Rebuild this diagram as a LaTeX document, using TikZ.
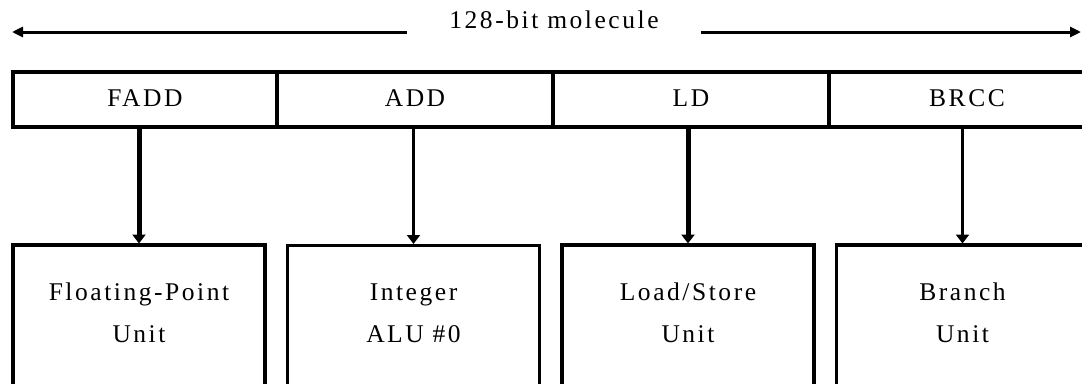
\documentclass[tikz,border=0pt]{standalone}
\usepackage{fontspec}
\setmainfont{Liberation Serif}[LetterSpace=10]
\usetikzlibrary{arrows.meta,positioning}

\begin{document}
\begin{tikzpicture}[x=1pt,y=-1pt,font=\fontsize{25.5}{42}\selectfont,
  cell/.style={draw,line width=3.5pt,minimum width=276pt,minimum height=55pt,inner sep=0pt,outer sep=0pt,text depth=3pt},
  unit/.style={draw,line width=3.5pt,minimum width=252pt,inner xsep=0pt,inner ysep=38pt,text depth=60pt,align=center,outer sep=0pt},
  dbl/.style={-{Triangle[width=10pt,length=11pt]},line width=3pt},
  arr/.style={-{Triangle[width=13pt,length=9pt]},shorten >=1.5pt}]
\fill[white] (0,0) rectangle (1082,383);
\useasboundingbox (0,0) rectangle (1082,383);
\clip (0,0) rectangle (1082,383);
\coordinate (lend) at (12,32);
\coordinate (rend) at (1081,32);
\node[inner xsep=42pt,inner ysep=0pt,anchor=base] (mol) at (554,28) {128-bit molecule};
\draw[dbl] (mol.west |- lend) -- (lend);
\draw[dbl] (mol.east |- rend) -- (rend);
\node[cell,minimum width=264pt] (fadd) at (145,99.5) {FADD};
\node[cell,right=0pt of fadd] (add) {ADD};
\node[cell,right=0pt of add] (ld) {LD};
\node[cell,right=0pt of ld] (brcc) {BRCC};
\node[unit,anchor=north] (fpu) at (139,245) {Floating-Point\\Unit};
\node[unit,right=22.5pt of fpu] (alu) {Integer\\ALU \#0};
\node[unit,right=22.5pt of alu] (lsu) {Load/Store\\Unit};
\node[unit,right=22.5pt of lsu] (bru) {Branch\\Unit};
\draw[arr,line width=5pt] (fpu.north |- fadd.south) -- (fpu.north);
\draw[arr,line width=2.5pt] (alu.north |- add.south) -- (alu.north);
\draw[arr,line width=5pt] (lsu.north |- ld.south) -- (lsu.north);
\draw[arr,line width=2.5pt] (bru.north |- brcc.south) -- (bru.north);
\end{tikzpicture}
\end{document}
